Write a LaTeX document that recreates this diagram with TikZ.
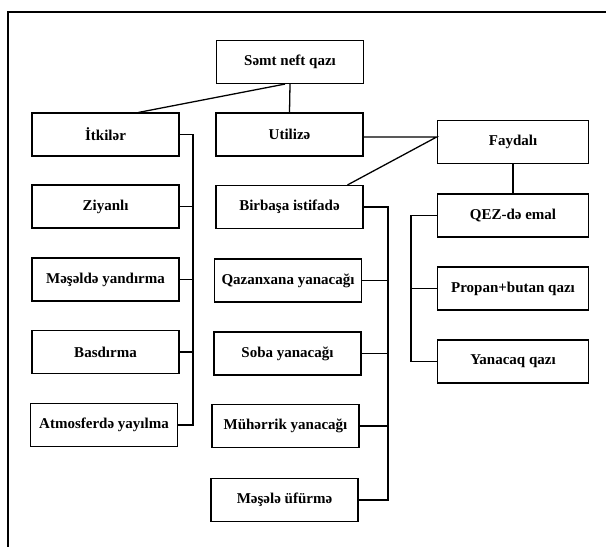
\documentclass[tikz,border=0pt]{standalone}
\usepackage{fontspec}
\setmainfont{Liberation Serif}
\usetikzlibrary{positioning,calc}
\tikzset{
  box/.style={draw,line width=0.9pt,minimum width=#1,minimum height=30pt,
    inner sep=2pt,align=center,font=\bfseries\fontsize{10.5}{12}\selectfont},
  box/.default=103pt,
  link/.style={line width=0.9pt},
  frame/.style={line width=1.1pt},
}
\begin{document}
\begin{tikzpicture}[x=0.7pt,y=-0.7pt]
  \useasboundingbox (0,0) rectangle (606,547);
  \draw[frame] (606,12) -- (8,12) -- (8,547);
  % boxes
  \foreach \n/\x/\y/\w/\t in {
    samt/290/62/103pt/Səmt neft qazı,
    itki/105.5/134.5/103pt/İtkilər,
    ziya/105.5/206.5/103pt/Ziyanlı,
    mese/105.5/279.5/103pt/Məşəldə yandırma,
    basd/105.5/352/103pt/Basdırma,
    atmo/104/425/103pt/Atmosferdə yayılma,
    util/289.5/134.5/103pt/Utilizə,
    birb/289.5/207/103pt/Birbaşa istifadə,
    qaza/288/280.5/103pt/Qazanxana yanacağı,
    soba/287.5/353.5/103pt/Soba yanacağı,
    muhe/285.5/426/103pt/Mühərrik yanacağı,
    mesl/284.5/500/103pt/Məşələ üfürmə,
    fayd/513/142/106pt/Faydalı,
    qez/513/215.5/106pt/QEZ-də emal,
    prop/513/288.5/106pt/Propan+butan qazı,
    yana/513/361.5/106pt/Yanacaq qazı}
  {
    \node[box=\w] (\n) at (\x,\y) {\t};
  }
  % spines of the brackets
  \coordinate (lspine) at (193,0);
  \coordinate (mspine) at (388,0);
  \coordinate (rspine) at (411,0);
  \coordinate (fj) at ($(fayd.west)+(0,-5)$);
  % top links
  \draw[link] ($(samt.south)+(-5,0)$) -- ($(itki.north)+(33,0)$);
  \draw[link] (samt.south) -- (util.north);
  \draw[link] (util.east |- fj) -- (fj) -- ($(birb.north)+(58,0)$);
  \draw[link] (fayd.south) -- (qez.north);
  % left bracket
  \draw[link] (itki.east) -- (itki.east -| lspine) -- (atmo.east -| lspine) -- (atmo.east);
  \foreach \n in {ziya,mese,basd}
    \draw[link] (\n.east) -- (\n.east -| lspine);
  % middle bracket
  \draw[link] (birb.east) -- (birb.east -| mspine) -- (mesl.east -| mspine) -- (mesl.east);
  \foreach \n in {qaza,soba,muhe}
    \draw[link] (\n.east) -- (\n.east -| mspine);
  % right bracket
  \draw[link] (qez.west) -- (qez.west -| rspine) -- (yana.west -| rspine) -- (yana.west);
  \draw[link] (prop.west) -- (prop.west -| rspine);
\end{tikzpicture}
\end{document}
